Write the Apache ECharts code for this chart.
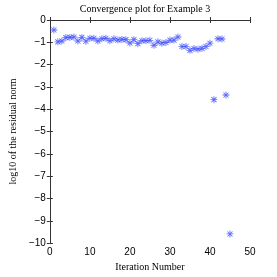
<!DOCTYPE html>
<html><head><meta charset="utf-8">
<script src="https://cdn.jsdelivr.net/npm/echarts@6/dist/echarts.min.js"></script>
<style>html,body{margin:0;padding:0;background:#fff}#c{width:277px;height:277px}</style>
</head><body><div id="c"></div>
<script>
const iterations = [1,2,3,4,5,6,7,8,9,10,11,12,13,14,15,16,17,18,19,20,21,22,23,24,25,26,27,28,29,30,31,32,33,34,35,36,37,38,39,40,41,42,43,44,45];
const logResidual = [-0.45,-0.98,-0.94,-0.79,-0.78,-0.76,-0.94,-0.78,-0.95,-0.82,-0.82,-0.94,-0.84,-0.82,-0.93,-0.84,-0.90,-0.87,-0.88,-1.03,-0.88,-1.06,-0.93,-0.93,-0.91,-1.13,-0.98,-1.04,-1.01,-0.90,-0.90,-0.76,-1.19,-1.19,-1.36,-1.28,-1.31,-1.27,-1.19,-1.04,-3.57,-0.84,-0.85,-3.36,-9.59];
const titleText = 'Convergence plot for Example 3';
const xName = 'Iteration Number';
const yName = 'log10 of the residual norm';

const star = 'path://M8.8,0H11.2V20H8.8Z M0,8.8H20V11.2H0Z M2,3.7L3.7,2L18,16.3L16.3,18Z M16.3,2L18,3.7L3.7,18L2,16.3Z';
const fmt = v => String(v).replace('-', '\u2212');
const axisCommon = {
  axisLine:{show:true,lineStyle:{color:'#333',width:1}},
  axisTick:{show:true,inside:true,length:3,lineStyle:{color:'#333'}},
  splitLine:{show:false}
};
const chart = echarts.init(document.getElementById('c'));
chart.setOption({
  animation:false,
  title:{text:titleText,left:145,top:4,padding:0,textAlign:'center',textStyle:{fontFamily:'Liberation Serif',fontSize:10,fontWeight:'normal',color:'#000'}},
  grid:{left:41,right:27,top:20,bottom:32},
  xAxis:[
    Object.assign({type:'value',min:0,max:50,interval:10,position:'bottom',name:xName,nameLocation:'middle',nameGap:17,
      nameTextStyle:{fontFamily:'Liberation Serif',fontSize:10,color:'#000'},
      axisLabel:{fontFamily:'Liberation Sans',fontSize:10,color:'#000',margin:4,formatter:fmt}},axisCommon),
    Object.assign({type:'value',min:0,max:50,interval:10,position:'top',axisLabel:{show:false}},axisCommon)
  ],
  yAxis:[
    Object.assign({type:'value',min:-10,max:0,interval:1,position:'left',name:yName,nameLocation:'middle',nameGap:27,
      nameTextStyle:{fontFamily:'Liberation Serif',fontSize:10,color:'#000'},
      axisLabel:{fontFamily:'Liberation Sans',fontSize:10,color:'#000',margin:4,formatter:fmt}},axisCommon),
    Object.assign({type:'value',min:-10,max:0,interval:1,position:'right',axisLabel:{show:false}},axisCommon)
  ],
  series:[{
    type:'scatter',
    data:iterations.map((x,i)=>[x,logResidual[i]]),
    symbol:star,symbolSize:7,
    itemStyle:{color:'rgba(30,50,255,0.9)'}
  }]
});
</script></body></html>
